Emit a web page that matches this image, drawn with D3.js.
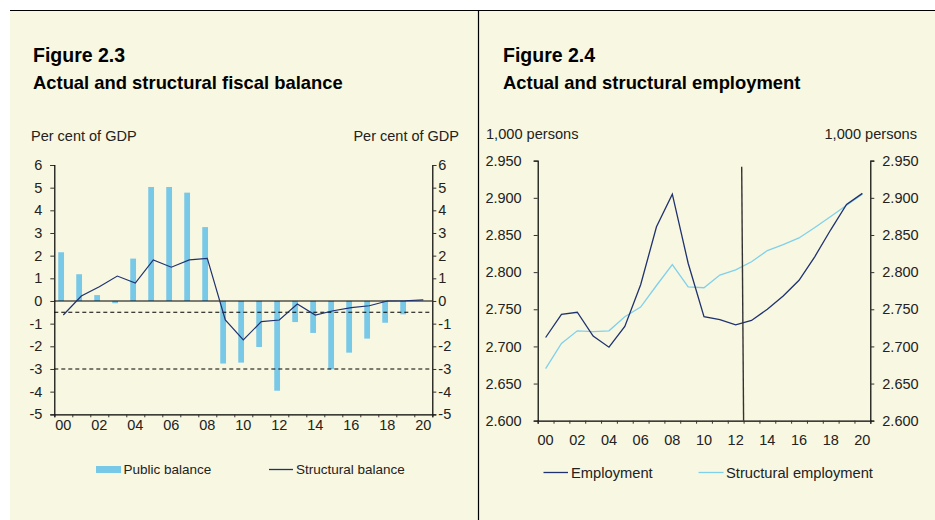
<!DOCTYPE html>
<html><head><meta charset="utf-8">
<script src="https://cdn.jsdelivr.net/npm/d3@7"></script>
<style>
html,body{margin:0;padding:0;background:#fff;}
svg{display:block;font-family:"Liberation Sans",Arial,sans-serif;}
</style></head>
<body>
<svg id="c" width="935" height="520"></svg>
<script>
// ---------- DATA ----------
const years = ["00","01","02","03","04","05","06","07","08","09","10","11","12","13","14","15","16","17","18","19","20"];
const yearLabels = ["00","02","04","06","08","10","12","14","16","18","20"];
const publicBalance = [2.15,1.18,0.26,-0.1,1.87,5.03,5.03,4.78,3.26,-2.76,-2.72,-2.03,-3.96,-0.93,-1.41,-3.01,-2.28,-1.66,-0.96,-0.59,0];
const structuralBalance = [-0.62,0.22,0.63,1.1,0.79,1.81,1.49,1.81,1.88,-0.84,-1.72,-0.91,-0.84,-0.13,-0.62,-0.43,-0.29,-0.21,0,0.01,0.05];
const dashedRefs = [-0.5,-3];
const fiscalTicks = [6,5,4,3,2,1,0,-1,-2,-3,-4,-5];
const employment = [2.712,2.743,2.746,2.714,2.699,2.727,2.783,2.861,2.905,2.812,2.740,2.736,2.729,2.735,2.750,2.768,2.789,2.821,2.857,2.891,2.906];
const structuralEmployment = [2.670,2.704,2.721,2.720,2.721,2.740,2.753,2.782,2.810,2.780,2.779,2.796,2.803,2.814,2.829,2.837,2.846,2.860,2.875,2.890,2.905];
const empTicks = [2.95,2.9,2.85,2.8,2.75,2.7,2.65,2.6];
const markerLine = [{pos:12.88, v:2.942},{pos:13.0, v:2.6}];

// ---------- STYLE ----------
const BG = "#f8f7e1", BAR = "#78c8e8", NAVY = "#1f326f", LIGHT = "#80d0ec", INK = "#222";
const svg = d3.select("#c");
svg.append("rect").attr("x",10).attr("y",10).attr("width",925).attr("height",510).attr("fill",BG);
svg.append("line").attr("x1",10).attr("x2",935).attr("y1",10.5).attr("y2",10.5).attr("stroke","#000").attr("stroke-width",1.2);
svg.append("line").attr("x1",478.5).attr("x2",478.5).attr("y1",10).attr("y2",520).attr("stroke","#000").attr("stroke-width",1.2);

function titles(x, a, b){
  svg.append("text").attr("x",x).attr("y",61.5).attr("font-size",19.5).attr("font-weight","bold").attr("fill","#000").text(a);
  svg.append("text").attr("x",x).attr("y",89).attr("font-size",18.4).attr("font-weight","bold").attr("fill","#000").text(b);
}
titles(33,"Figure 2.3","Actual and structural fiscal balance");
titles(503,"Figure 2.4","Actual and structural employment");

function styleAxis(g, fs){
  g.selectAll("path").attr("stroke","#000").attr("stroke-width",1.2);
  g.selectAll("line").attr("stroke","#333");
  g.selectAll("text").attr("font-size",fs).attr("fill",INK).attr("font-family","'Liberation Sans',Arial,sans-serif");
}
const intFmt = d => String(d);

// ---------- LEFT CHART ----------
{
  const L=54.3, R=432.3, T=165, B=414.3;
  const x = d3.scaleBand().domain(years).range([L,R]).padding(0);
  const bw = x.bandwidth();
  const y = d3.scaleLinear().domain([-5,6]).range([B,T]);
  const g = svg.append("g");
  g.selectAll("rect.bar").data(publicBalance).join("rect")
    .attr("x",(d,i)=>x(years[i])+bw*0.22).attr("width",bw*0.32)
    .attr("y",d=>y(Math.max(0,d))).attr("height",d=>Math.abs(y(d)-y(0)))
    .attr("fill",BAR);
  g.append("line").attr("x1",L).attr("x2",R).attr("y1",y(0)).attr("y2",y(0)).attr("stroke","#000").attr("stroke-width",1.2);
  g.selectAll("line.ref").data(dashedRefs).join("line")
    .attr("x1",L).attr("x2",R).attr("y1",d=>y(d)).attr("y2",d=>y(d))
    .attr("stroke","#000").attr("stroke-width",1.1).attr("stroke-dasharray","4,3");
  g.append("path").datum(structuralBalance)
    .attr("d",d3.line().x((d,i)=>x(years[i])+bw/2).y(d=>y(d)))
    .attr("fill","none").attr("stroke",NAVY).attr("stroke-width",1.2);
  const ya = svg.append("g").attr("transform",`translate(${L},0)`).call(d3.axisLeft(y).tickValues(fiscalTicks).tickSize(4).tickPadding(8).tickFormat(intFmt));
  styleAxis(ya,14.5);
  const yb = svg.append("g").attr("transform",`translate(${R},0)`).call(d3.axisRight(y).tickValues(fiscalTicks).tickSize(4).tickPadding(2).tickFormat(intFmt));
  styleAxis(yb,14.5);
  const xl = d3.scaleLinear().domain([0,years.length]).range([L,R]);
  const xa = svg.append("g").attr("transform",`translate(0,${B})`).call(d3.axisBottom(xl).tickValues(d3.range(0,years.length+1)).tickSize(3).tickFormat(""));
  styleAxis(xa,14.5);
  svg.append("g").selectAll("text").data(yearLabels).join("text")
    .attr("x",d=>x(d)+bw/2).attr("y",430).attr("text-anchor","middle")
    .attr("font-size",14.5).attr("fill",INK).text(d=>d);
  svg.append("text").attr("x",31).attr("y",140.5).attr("font-size",14.5).attr("fill",INK).text("Per cent of GDP");
  svg.append("text").attr("x",459).attr("y",140.5).attr("text-anchor","end").attr("font-size",14.5).attr("fill",INK).text("Per cent of GDP");
  svg.append("rect").attr("x",96).attr("y",466).attr("width",25).attr("height",7).attr("fill",BAR);
  svg.append("text").attr("x",123.5).attr("y",474).attr("font-size",13.5).attr("fill",INK).text("Public balance");
  svg.append("line").attr("x1",269).attr("x2",293).attr("y1",469.5).attr("y2",469.5).attr("stroke",NAVY).attr("stroke-width",1.3);
  svg.append("text").attr("x",296).attr("y",474).attr("font-size",13.5).attr("fill",INK).text("Structural balance");
}

// ---------- RIGHT CHART ----------
{
  const L=537.7, R=870.3, T=160.7, B=420.7;
  const x = d3.scaleBand().domain(years).range([L,R]).padding(0);
  const bw = x.bandwidth();
  const xl = d3.scaleLinear().domain([0,years.length]).range([L,R]);
  const y = d3.scaleLinear().domain([2.6,2.95]).range([B,T]);
  const fmt = d3.format(".3f");
  const ya = svg.append("g").attr("transform",`translate(${L},0)`).call(d3.axisLeft(y).tickValues(empTicks).tickSize(4).tickPadding(12).tickFormat(fmt));
  styleAxis(ya,14.5);
  const yb = svg.append("g").attr("transform",`translate(${R},0)`).call(d3.axisRight(y).tickValues(empTicks).tickSize(4).tickPadding(8).tickFormat(fmt));
  styleAxis(yb,14.5);
  const xa = svg.append("g").attr("transform",`translate(0,${B})`).call(d3.axisBottom(xl).tickValues(d3.range(0,years.length+1)).tickSize(3).tickFormat(""));
  styleAxis(xa,14.5);
  svg.append("g").selectAll("text").data(yearLabels).join("text")
    .attr("x",d=>x(d)+bw/2).attr("y",444.5).attr("text-anchor","middle")
    .attr("font-size",14.5).attr("fill",INK).text(d=>d);
  const line = d3.line().x((d,i)=>x(years[i])+bw/2).y(d=>y(d));
  svg.append("path").datum(structuralEmployment).attr("d",line).attr("fill","none").attr("stroke",LIGHT).attr("stroke-width",1.3);
  svg.append("path").datum(employment).attr("d",line).attr("fill","none").attr("stroke",NAVY).attr("stroke-width",1.3);
  svg.append("path").datum(markerLine)
    .attr("d",d3.line().x(d=>xl(d.pos)).y(d=>y(d.v)))
    .attr("stroke","#333").attr("stroke-width",1.4).attr("fill","none");
  svg.append("text").attr("x",486).attr("y",138.5).attr("font-size",14.6).attr("fill",INK).text("1,000 persons");
  svg.append("text").attr("x",917).attr("y",138.5).attr("text-anchor","end").attr("font-size",14.6).attr("fill",INK).text("1,000 persons");
  svg.append("line").attr("x1",543.5).attr("x2",568).attr("y1",472.5).attr("y2",472.5).attr("stroke",NAVY).attr("stroke-width",1.3);
  svg.append("text").attr("x",571).attr("y",477.5).attr("font-size",14.7).attr("fill",INK).text("Employment");
  svg.append("line").attr("x1",698.5).attr("x2",723.5).attr("y1",472.5).attr("y2",472.5).attr("stroke",LIGHT).attr("stroke-width",1.3);
  svg.append("text").attr("x",726).attr("y",477.5).attr("font-size",14.7).attr("fill",INK).text("Structural employment");
}
</script>
</body></html>
